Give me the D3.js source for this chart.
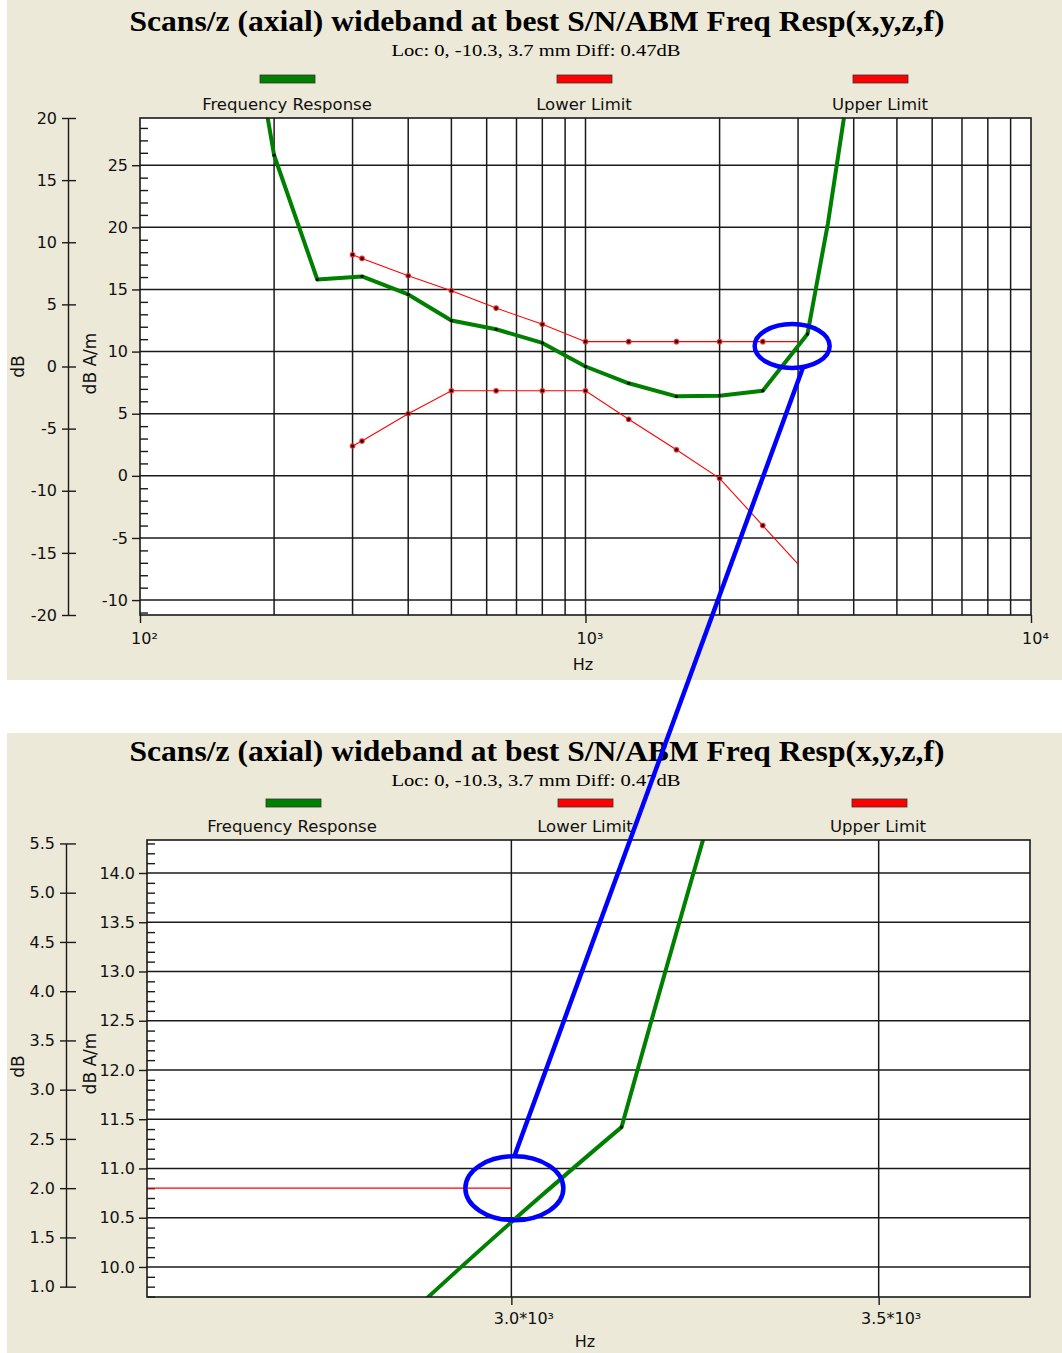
<!DOCTYPE html>
<html><head><meta charset="utf-8">
<script src="https://cdn.jsdelivr.net/npm/d3@7"></script>
<style>body{margin:0;background:#fff;} svg{display:block}</style>
</head><body>
<svg id="c" width="1062" height="1353"></svg>
<script>
// ---------------- data ----------------
const titleText = "Scans/z (axial) wideband at best S/N/ABM Freq Resp(x,y,z,f)";
const subtitleText = "Loc: 0, -10.3, 3.7 mm Diff: 0.47dB";
const legendLabels = ["Frequency Response", "Lower Limit", "Upper Limit"];
const legendColors = ["#008000", "#ff0000", "#ff0000"];

const respFreqs  = [160, 200, 250, 315, 400, 500, 630, 800, 1000, 1250, 1600, 2000, 2500, 3150, 3500, 4000];
const respValues = [46, 25.8, 15.8, 16.05, 14.6, 12.5, 11.8, 10.7, 8.8, 7.45, 6.4, 6.45, 6.85, 11.42, 20.3, 34];
const respMarkerFreqs = [200, 250, 315, 400, 500, 630, 800, 1000, 1250, 1600, 2000, 2500, 3150];

const limitFreqs  = [300, 315, 400, 500, 630, 800, 1000, 1250, 1600, 2000, 2500, 3000];
const upperValues = [17.8, 17.5, 16.1, 14.9, 13.5, 12.2, 10.8, 10.8, 10.8, 10.8, 10.8, 10.8];
const lowerValues = [2.4, 2.8, 5.0, 6.85, 6.85, 6.85, 6.85, 4.55, 2.1, -0.2, -4.0, -7.1];
const limitMarkerFreqs = [300, 315, 400, 500, 630, 800, 1000, 1250, 1600, 2000, 2500];

const dbReference = 8.8; // dB A/m value that corresponds to 0 dB

const topXTicks = [100, 1000, 10000];
const topXTickLabels = ["10\u00b2", "10\u00b3", "10\u2074"];
const topXGrid = [200,300,400,500,600,700,800,900,1000,2000,3000,4000,5000,6000,7000,8000,9000];
const topYTicks = [-10, -5, 0, 5, 10, 15, 20, 25];
const topDbTicks = [-20, -15, -10, -5, 0, 5, 10, 15, 20];

const zoomXTicks = [3000, 3500];
const zoomXTickLabels = ["3.0*10\u00b3", "3.5*10\u00b3"];
const zoomYTicks = [10.0, 10.5, 11.0, 11.5, 12.0, 12.5, 13.0, 13.5, 14.0];
const zoomDbTicks = [1.0, 1.5, 2.0, 2.5, 3.0, 3.5, 4.0, 4.5, 5.0, 5.5];

// ---------------- setup ----------------
const svg = d3.select("#c");
const BG = "#ece9d8", GRID = "#1a1a1a", FONT = "DejaVu Sans", SERIF = "Liberation Serif";
const resp = respFreqs.map((f, i) => ({f, v: respValues[i]}));
const upper = limitFreqs.map((f, i) => ({f, v: upperValues[i]}));
const lower = limitFreqs.map((f, i) => ({f, v: lowerValues[i]}));
const fmtInt = d => String(d);
const fmt1 = d => d.toFixed(1);

svg.append("rect").attr("x", 7).attr("y", 0).attr("width", 1055).attr("height", 680).attr("fill", BG);
svg.append("rect").attr("x", 7).attr("y", 733).attr("width", 1055).attr("height", 620).attr("fill", BG);

function header(y0) {
  svg.append("text").attr("x", 537).attr("y", y0 + 31).attr("text-anchor", "middle")
    .attr("font-family", SERIF).attr("font-weight", "bold").attr("font-size", 30)
    .attr("textLength", 815).attr("lengthAdjust", "spacingAndGlyphs").text(titleText);
  svg.append("text").attr("x", 536).attr("y", y0 + 56).attr("text-anchor", "middle")
    .attr("font-family", SERIF).attr("font-size", 17)
    .attr("textLength", 289).attr("lengthAdjust", "spacingAndGlyphs").text(subtitleText);
}

function legend(swX, swY, labX, labY) {
  legendLabels.forEach((t, i) => {
    svg.append("rect").attr("x", swX[i]).attr("y", swY).attr("width", 55).attr("height", 8)
      .attr("fill", legendColors[i]).attr("stroke", "#333").attr("stroke-width", 0.8);
    svg.append("text").attr("x", labX[i]).attr("y", labY).attr("text-anchor", "middle")
      .attr("font-family", FONT).attr("font-size", 16.5).attr("fill", "#111").text(t);
  });
}

function styleAxis(g, size) {
  g.attr("font-family", FONT).attr("font-size", size);
  g.selectAll("text").attr("fill", "#111");
  g.selectAll("line").attr("stroke", GRID).attr("stroke-width", 1.4);
  g.selectAll("path.domain").attr("stroke", GRID).attr("stroke-width", 1.4);
}

// draws a segment between data points the way the source software does: linear in log-frequency
function logDensify(pts, steps) {
  const out = [];
  for (let i = 0; i < pts.length - 1; i++) {
    const a = pts[i], b = pts[i + 1];
    for (let k = 0; k < steps; k++) {
      const t = k / steps;
      out.push({f: a.f * Math.pow(b.f / a.f, t), v: a.v + (b.v - a.v) * t});
    }
  }
  out.push(pts[pts.length - 1]);
  return out;
}

// ================= TOP CHART =================
header(0);
legend([260, 557, 853], 75, [287, 584, 880], 110);

const T = {l: 140, r: 1031, t: 118, b: 615};
const xT = d3.scaleLog().domain([100, 10000]).range([T.l, T.r]);
const yT = d3.scaleLinear().domain([-11.2, 28.8]).range([T.b, T.t]);
const dbT = d3.scaleLinear().domain([-20, 20]).range([yT(-20 + dbReference), yT(20 + dbReference)]);

svg.append("defs").html(
  `<clipPath id="clipT"><rect x="${T.l}" y="${T.t}" width="${T.r - T.l}" height="${T.b - T.t}"/></clipPath>`);
svg.append("rect").attr("x", T.l).attr("y", T.t).attr("width", T.r - T.l).attr("height", T.b - T.t).attr("fill", "#fff");

const gT = svg.append("g");
gT.selectAll("line.vg").data(topXGrid).join("line").attr("class", "vg")
  .attr("x1", d => xT(d)).attr("x2", d => xT(d)).attr("y1", T.t).attr("y2", T.b)
  .attr("stroke", GRID).attr("stroke-width", 1.5);
gT.selectAll("line.hg").data(topYTicks).join("line").attr("class", "hg")
  .attr("x1", T.l).attr("x2", T.r).attr("y1", d => yT(d)).attr("y2", d => yT(d))
  .attr("stroke", GRID).attr("stroke-width", 1.5);

// minor ticks
const topMinor = d3.range(-11, 29, 1).filter(d => d % 5 !== 0);
svg.append("g").attr("transform", `translate(${T.l},0)`)
  .call(d3.axisRight(yT).tickValues(topMinor).tickSize(8).tickFormat(""))
  .call(g => { g.select(".domain").remove(); styleAxis(g, 16); });

const clipT = svg.append("g").attr("clip-path", "url(#clipT)");
const lineT = d3.line().x(d => xT(d.f)).y(d => yT(d.v));
[lower, upper].forEach(s => {
  const m = s.filter(d => limitMarkerFreqs.includes(d.f));
  clipT.append("path").datum(s).attr("d", lineT).attr("fill", "none").attr("stroke", "#ff0000").attr("stroke-width", 1.1);
  clipT.selectAll(null).data(m).join("circle")
    .attr("cx", d => xT(d.f)).attr("cy", d => yT(d.v)).attr("r", 2.8).attr("fill", "#ff2020");
  clipT.selectAll(null).data(m).join("circle")
    .attr("cx", d => xT(d.f)).attr("cy", d => yT(d.v)).attr("r", 1.6).attr("fill", "#000");
});
clipT.append("path").datum(resp).attr("d", lineT).attr("fill", "none").attr("stroke", "#008000")
  .attr("stroke-width", 4).attr("stroke-linejoin", "round");
clipT.selectAll(null).data(resp.filter(d => respMarkerFreqs.includes(d.f))).join("circle")
  .attr("cx", d => xT(d.f)).attr("cy", d => yT(d.v)).attr("r", 1.6).attr("fill", "#000");

svg.append("rect").attr("x", T.l).attr("y", T.t).attr("width", T.r - T.l).attr("height", T.b - T.t)
  .attr("fill", "none").attr("stroke", GRID).attr("stroke-width", 1.6);

// inner y axis (dB A/m)
svg.append("g").attr("transform", `translate(${T.l},0)`)
  .call(d3.axisLeft(yT).tickValues(topYTicks).tickSize(8).tickPadding(4).tickFormat(fmtInt))
  .call(g => { g.select(".domain").remove(); styleAxis(g, 16); });
// outer y axis (dB)
svg.append("g").attr("transform", "translate(68,0)")
  .call(d3.axisLeft(dbT).tickValues(topDbTicks).tickSize(6).tickSizeOuter(0).tickPadding(5).tickFormat(fmtInt))
  .call(g => { styleAxis(g, 16); g.selectAll(".tick line").attr("x1", 8); });
// x axis
svg.append("g").attr("transform", `translate(0,${T.b})`)
  .call(d3.axisBottom(xT).tickValues(topXTicks).tickSize(8).tickPadding(10).tickFormat((d, i) => topXTickLabels[i]))
  .call(g => { g.select(".domain").remove(); styleAxis(g, 16); g.selectAll("text").attr("dx", 4); });

svg.append("text").attr("x", 583).attr("y", 670).attr("text-anchor", "middle")
  .attr("font-family", FONT).attr("font-size", 16).attr("fill", "#111").text("Hz");
svg.append("text").attr("transform", `translate(24,${dbT(0)}) rotate(-90)`).attr("text-anchor", "middle")
  .attr("font-family", FONT).attr("font-size", 17).attr("fill", "#111").text("dB");
svg.append("text").attr("transform", `translate(96,${(T.t + T.b) / 2 - 3}) rotate(-90)`).attr("text-anchor", "middle")
  .attr("font-family", FONT).attr("font-size", 17).attr("fill", "#111").text("dB A/m");

// ================= BOTTOM (ZOOM) CHART =================
header(730);
legend([266, 558, 852], 799, [292, 585, 878], 832);

const B = {l: 147, r: 1030, t: 840, b: 1297};
const xB = d3.scaleLinear().domain([2504, 3706]).range([B.l, B.r]);
const yB = d3.scaleLinear().domain([9.695, 14.335]).range([B.b, B.t]);
const dbB = d3.scaleLinear().domain([1.0, 5.5]).range([yB(1.0 + dbReference), yB(5.5 + dbReference)]);

svg.select("defs").append("clipPath").attr("id", "clipB").append("rect")
  .attr("x", B.l).attr("y", B.t).attr("width", B.r - B.l).attr("height", B.b - B.t);
svg.append("rect").attr("x", B.l).attr("y", B.t).attr("width", B.r - B.l).attr("height", B.b - B.t).attr("fill", "#fff");

const gB = svg.append("g");
gB.selectAll("line.vg").data(zoomXTicks).join("line").attr("class", "vg")
  .attr("x1", d => xB(d)).attr("x2", d => xB(d)).attr("y1", B.t).attr("y2", B.b)
  .attr("stroke", GRID).attr("stroke-width", 1.5);
gB.selectAll("line.hg").data(zoomYTicks).join("line").attr("class", "hg")
  .attr("x1", B.l).attr("x2", B.r).attr("y1", d => yB(d)).attr("y2", d => yB(d))
  .attr("stroke", GRID).attr("stroke-width", 1.5);

const zoomMinor = d3.range(97, 144, 1).map(d => d / 10).filter(d => Math.round(d * 10) % 5 !== 0);
svg.append("g").attr("transform", `translate(${B.l},0)`)
  .call(d3.axisRight(yB).tickValues(zoomMinor).tickSize(8).tickFormat(""))
  .call(g => { g.select(".domain").remove(); styleAxis(g, 16); });

const clipB = svg.append("g").attr("clip-path", "url(#clipB)");
const lineB = d3.line().x(d => xB(d.f)).y(d => yB(d.v));
[lower, upper].forEach(s => {
  clipB.append("path").datum(logDensify(s, 40)).attr("d", lineB).attr("fill", "none").attr("stroke", "#ff0000").attr("stroke-width", 1.1);
});
clipB.append("path").datum(logDensify(resp, 60)).attr("d", lineB).attr("fill", "none").attr("stroke", "#008000")
  .attr("stroke-width", 4).attr("stroke-linejoin", "round");
clipB.selectAll(null).data(resp.filter(d => respMarkerFreqs.includes(d.f))).join("circle")
  .attr("cx", d => xB(d.f)).attr("cy", d => yB(d.v)).attr("r", 1.6).attr("fill", "#000");

svg.append("rect").attr("x", B.l).attr("y", B.t).attr("width", B.r - B.l).attr("height", B.b - B.t)
  .attr("fill", "none").attr("stroke", GRID).attr("stroke-width", 1.6);

svg.append("g").attr("transform", `translate(${B.l},0)`)
  .call(d3.axisLeft(yB).tickValues(zoomYTicks).tickSize(8).tickPadding(4).tickFormat(fmt1))
  .call(g => { g.select(".domain").remove(); styleAxis(g, 16); });
svg.append("g").attr("transform", "translate(66,0)")
  .call(d3.axisLeft(dbB).tickValues(zoomDbTicks).tickSize(6).tickSizeOuter(0).tickPadding(5).tickFormat(fmt1))
  .call(g => { styleAxis(g, 16); g.selectAll(".tick line").attr("x1", 10); });
svg.append("g").attr("transform", `translate(0,${B.b})`)
  .call(d3.axisBottom(xB).tickValues(zoomXTicks).tickSize(8).tickPadding(8).tickFormat((d, i) => zoomXTickLabels[i]))
  .call(g => { g.select(".domain").remove(); styleAxis(g, 16); g.selectAll("text").attr("dx", 12); });

svg.append("text").attr("x", 585).attr("y", 1347).attr("text-anchor", "middle")
  .attr("font-family", FONT).attr("font-size", 16).attr("fill", "#111").text("Hz");
svg.append("text").attr("transform", `translate(24,${(B.t + B.b) / 2 - 2}) rotate(-90)`).attr("text-anchor", "middle")
  .attr("font-family", FONT).attr("font-size", 17).attr("fill", "#111").text("dB");
svg.append("text").attr("transform", `translate(96,${(B.t + B.b) / 2 - 5}) rotate(-90)`).attr("text-anchor", "middle")
  .attr("font-family", FONT).attr("font-size", 17).attr("fill", "#111").text("dB A/m");

// ================= blue annotation =================
const e1 = {cx: xT(2910), cy: yT(10.45), rx: 37.5, ry: 22};
const e2 = {cx: xB(3000) + 3, cy: yB(10.8), rx: 49, ry: 32};
const blue = svg.append("g").attr("fill", "none").attr("stroke", "#0000ff").attr("stroke-width", 4.5);
blue.append("ellipse").attr("cx", e1.cx).attr("cy", e1.cy).attr("rx", e1.rx).attr("ry", e1.ry);
blue.append("ellipse").attr("cx", e2.cx).attr("cy", e2.cy).attr("rx", e2.rx).attr("ry", e2.ry);
blue.append("line").attr("x1", e1.cx + 11).attr("y1", e1.cy + e1.ry * Math.sqrt(1 - (11 / e1.rx) ** 2))
  .attr("x2", e2.cx).attr("y2", e2.cy - e2.ry);
</script>
</body></html>
